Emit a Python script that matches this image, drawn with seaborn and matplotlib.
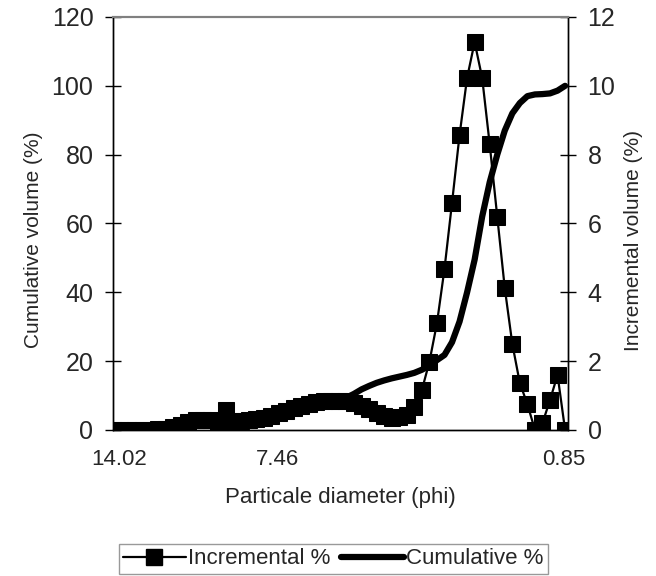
import numpy as np
import pandas as pd
import seaborn as sns
import matplotlib.pyplot as plt
from matplotlib.lines import Line2D

# incremental volume (%) per size class (right axis)
incremental = [0.0, 0.0, 0.01, 0.01, 0.01, 0.01, 0.02, 0.04, 0.08, 0.15,
               0.22, 0.28, 0.30, 0.30, 0.0, 0.58, 0.27, 0.26, 0.28, 0.31,
               0.36, 0.42, 0.48, 0.56, 0.63, 0.70, 0.75, 0.80, 0.83, 0.85,
               0.85, 0.83, 0.78, 0.70, 0.60, 0.50, 0.42, 0.36, 0.38, 0.44,
               0.67, 1.16, 1.98, 3.10, 4.68, 6.60, 8.57, 10.23, 11.27, 10.23,
               8.30, 6.20, 4.12, 2.50, 1.36, 0.75, 0.0, 0.20, 0.87, 1.60,
               0.0]

# cumulative volume (%) (left axis)
cumulative = [0.0, 0.0, 0.0, 0.0, 0.0, 0.0, 0.05, 0.3, 0.8, 1.5,
              2.2, 2.7, 3.0, 3.1, 3.1, 3.1, 3.1, 3.2, 3.5, 4.0,
              4.5, 5.1, 5.7, 6.3, 6.9, 7.4, 7.9, 8.3, 8.6, 8.8,
              9.0, 9.4, 10.5, 11.8, 12.8, 13.7, 14.4, 15.0, 15.5, 16.0,
              16.6, 17.5, 18.7, 20.3, 21.8, 25.5, 31.5, 40.0, 49.5, 62.0,
              72.0, 80.0, 87.0, 92.0, 95.0, 97.0, 97.5, 97.6, 97.8, 98.6,
              100.0]

xlabels = ["14.02", "7.46", "0.85"]

df = pd.DataFrame({"idx": np.arange(len(incremental)),
                   "incremental": incremental,
                   "cumulative": cumulative})

sns.set_style("white")
plt.rcParams["font.family"] = ["Liberation Sans", "DejaVu Sans"]

fig = plt.figure(figsize=(6.56, 5.76), dpi=100)
ax = fig.add_axes([0.172, 0.2535, 0.694, 0.717])
ax2 = ax.twinx()

sns.lineplot(data=df, x="idx", y="cumulative", ax=ax, color="black",
             linewidth=4.5)
sns.lineplot(data=df, x="idx", y="incremental", ax=ax2, color="black",
             linewidth=1.6, marker="s", markersize=12,
             markeredgecolor="black")

ax.set_xlim(0, 60.4)
ax.set_ylim(0, 120)
ax2.set_ylim(0, 12)
ax.set_yticks(np.arange(0, 121, 20))
ax2.set_yticks(np.arange(0, 13, 2))

# labels sit slightly right of the tick marks in the original
ax.set_xticks([0.9, 21.8, 59.8])
ax.set_xticklabels(xlabels, fontsize=16)
ax.set_xticks([0, 21.4, 40.9], minor=True)
ax.tick_params(axis="x", which="major", length=0, pad=14)
ax.tick_params(axis="x", which="minor", direction="inout", length=10,
               width=1, color="black")

ax.tick_params(axis="y", direction="inout", length=12, width=1,
               labelsize=18, left=True, color="black", pad=8)
ax2.tick_params(axis="y", direction="inout", length=12, width=1,
                labelsize=18, right=True, color="black", pad=8)

ax.set_xlabel("Particale diameter (phi)", fontsize=16, labelpad=12)
ax.set_ylabel("Cumulative volume (%)", fontsize=15, labelpad=6)
ax2.set_ylabel("Incremental volume (%)", fontsize=15, labelpad=6)
ax.yaxis.label.set_y(0.46)
ax2.yaxis.label.set_y(0.46)

for a in (ax, ax2):
    for side in ["left", "right", "bottom"]:
        a.spines[side].set_color("black")
        a.spines[side].set_linewidth(1)
    a.spines["top"].set_color("#808080")
    a.spines["top"].set_linewidth(1.5)

handles = [Line2D([], [], color="black", linewidth=1.6, marker="s",
                  markersize=12),
           Line2D([], [], color="black", linewidth=4.5)]
leg = fig.legend(handles, ["Incremental %", "Cumulative %"], loc="lower center",
                 bbox_to_anchor=(0.508, 0.0), ncol=2, fontsize=16,
                 frameon=True, fancybox=False, handlelength=2.8,
                 handletextpad=0.1, columnspacing=0.5, borderpad=0.2,
                 borderaxespad=0.1)
leg.get_frame().set_edgecolor("#808080")
leg.get_frame().set_linewidth(1)

fig.savefig("out.png", dpi=100)
